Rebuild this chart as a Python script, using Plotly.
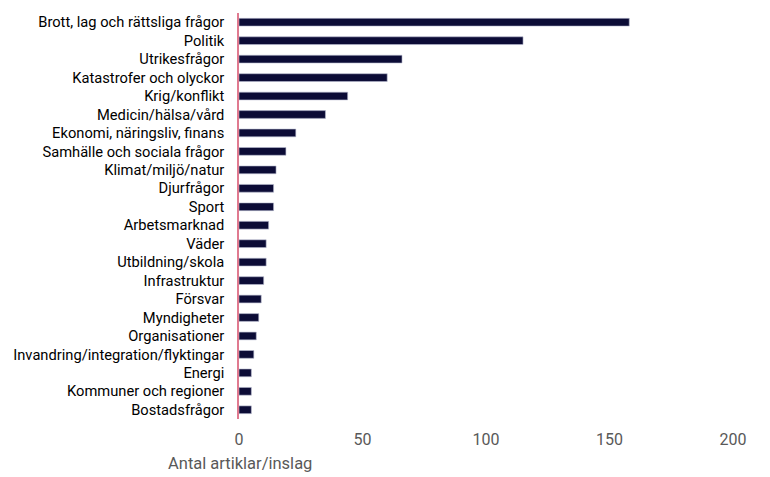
import plotly.graph_objects as go

categories = [
    "Brott, lag och rättsliga frågor", "Politik", "Utrikesfrågor",
    "Katastrofer och olyckor", "Krig/konflikt", "Medicin/hälsa/vård",
    "Ekonomi, näringsliv, finans", "Samhälle och sociala frågor",
    "Klimat/miljö/natur", "Djurfrågor", "Sport", "Arbetsmarknad", "Väder",
    "Utbildning/skola", "Infrastruktur", "Försvar", "Myndigheter",
    "Organisationer", "Invandring/integration/flyktingar", "Energi",
    "Kommuner och regioner", "Bostadsfrågor",
]
counts = [158, 115, 66, 60, 44, 35, 23, 19, 15, 14, 14, 12, 11, 11, 10, 9, 8, 7, 6, 5, 5, 5]
x_ticks = [0, 50, 100, 150, 200]

# the page body has an 8px margin, so the figure is sized/placed to compensate
fig = go.Figure()
fig.add_trace(go.Bar(
    y=categories, x=counts, orientation="h",
    marker=dict(color="#0c0c36", line=dict(color="#b8bcd0", width=0.6)),
    width=0.42,
))

fig.update_layout(
    width=762, height=469,
    margin=dict(l=231, r=37, t=5, b=58, autoexpand=False),
    plot_bgcolor="white", paper_bgcolor="white",
    font=dict(family="Roboto", size=14.7, color="#000000"),
    showlegend=False,
    xaxis=dict(
        range=[0, 200], tickvals=x_ticks, showgrid=False, zeroline=False,
        showline=False, tickfont=dict(size=16, color="#595959"),
        ticks="", ticklabelstandoff=9, automargin=False,
    ),
    yaxis=dict(
        autorange="reversed", showgrid=False, zeroline=False,
        showline=True, linecolor="#e07a90", linewidth=1.5,
        ticks="", ticklabelstandoff=10, automargin=False,
        tickfont=dict(size=14.7, color="#000000"),
    ),
    annotations=[dict(
        text="Antal artiklar/inslag", x=(166 - 239) / 494,
        y=-(463 - 419) / 406, xref="paper", yref="paper",
        xanchor="left", yanchor="middle", showarrow=False,
        font=dict(size=16.5, color="#595959"),
    )],
)

fig.write_html("out.html")
